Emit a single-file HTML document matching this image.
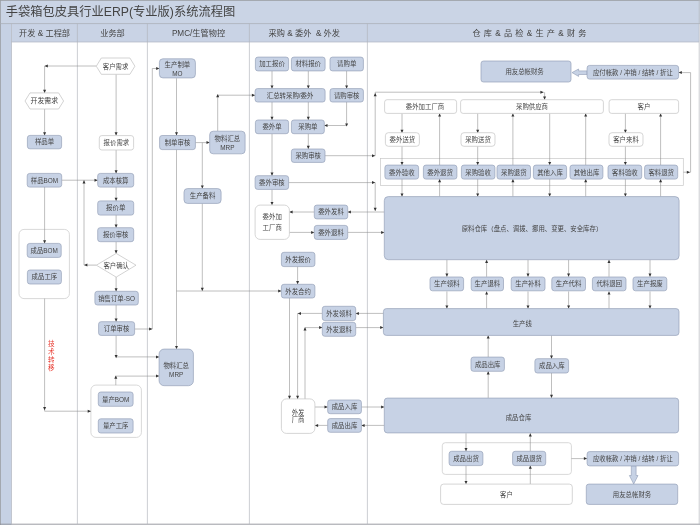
<!DOCTYPE html>
<html lang="zh-CN"><head><meta charset="utf-8"><title>手袋箱包皮具行业ERP(专业版)系统流程图</title>
<style>html,body{margin:0;padding:0;background:#fff;overflow:hidden}svg{display:block;will-change:transform}</style></head>
<body>
<svg width="700" height="525" viewBox="0 0 700 525" font-family='"Liberation Sans", "Noto Sans CJK SC", sans-serif'>
<rect x="0" y="0" width="700" height="525" fill="#ffffff"/>
<rect x="0" y="0" width="700" height="23.5" fill="#cad4e5"/>
<rect x="0" y="23.5" width="11.5" height="501.5" fill="#c6d1e4"/>
<rect x="11.3" y="23.5" width="688" height="18.5" fill="#c9d3e5"/>
<line x1="0" y1="0.4" x2="700" y2="0.4" stroke="#9a9da3" stroke-width="0.9"/>
<line x1="0.4" y1="0" x2="0.4" y2="525" stroke="#9a9da3" stroke-width="0.9"/>
<line x1="0" y1="23.6" x2="700" y2="23.6" stroke="#a6abb5" stroke-width="0.8"/>
<line x1="11.3" y1="42" x2="699" y2="42" stroke="#b0b6c2" stroke-width="0.7"/>
<line x1="0" y1="524.2" x2="700" y2="524.2" stroke="#8f9197" stroke-width="0.9"/>
<line x1="11.5" y1="23.6" x2="11.5" y2="524" stroke="#b4b8c0" stroke-width="0.7"/>
<line x1="699.2" y1="0" x2="699.2" y2="525" stroke="#b5b8be" stroke-width="0.7"/>
<line x1="77.4" y1="23.6" x2="77.4" y2="524" stroke="#b2b5bb" stroke-width="0.65"/>
<line x1="147.4" y1="23.6" x2="147.4" y2="524" stroke="#b2b5bb" stroke-width="0.65"/>
<line x1="249.4" y1="23.6" x2="249.4" y2="524" stroke="#b2b5bb" stroke-width="0.65"/>
<line x1="367.4" y1="23.6" x2="367.4" y2="524" stroke="#b2b5bb" stroke-width="0.65"/>
<text x="5.8" y="16.0" font-size="12.25" fill="#444" text-anchor="start" >手袋箱包皮具行业ERP(专业版)系统流程图</text>
<text x="44.6" y="36.1" font-size="8.2" fill="#444" text-anchor="middle" xml:space="preserve" word-spacing="0">开发 &amp; 工程部</text>
<text x="112.5" y="36.1" font-size="8.2" fill="#444" text-anchor="middle" xml:space="preserve" word-spacing="0">业务部</text>
<text x="198.5" y="36.1" font-size="8.2" fill="#444" text-anchor="middle" xml:space="preserve" word-spacing="0">PMC/生管物控</text>
<text x="304.3" y="36.1" font-size="8.2" fill="#444" text-anchor="middle" xml:space="preserve" word-spacing="0">采购 &amp; 委外  &amp; 外发</text>
<text x="529.5" y="36.1" font-size="8.2" fill="#444" text-anchor="middle" xml:space="preserve" word-spacing="0.95">仓 库 &amp; 品 检 &amp; 生 产 &amp; 财 务</text>
<rect x="19.0" y="229.4" width="50.4" height="69.2" rx="5" ry="5" fill="#fff" stroke="#c8c8c8" stroke-width="0.7" />
<rect x="90.9" y="385.1" width="50.5" height="52.3" rx="5" ry="5" fill="#fff" stroke="#c8c8c8" stroke-width="0.7" />
<rect x="380.6" y="158.4" width="302.7" height="27.2" rx="0" ry="0" fill="#fff" stroke="#c8c8c8" stroke-width="0.7" />
<rect x="442.3" y="442.7" width="129.1" height="31.7" rx="3" ry="3" fill="#fff" stroke="#c8c8c8" stroke-width="0.7" />
<polyline points="96.3,66.0 44.6,66.0" fill="none" stroke="#8a8a8a" stroke-width="0.55"/>
<polygon points="44.6,66.0 47.8,64.5 47.8,67.5" fill="#333"/>
<polyline points="44.6,66.0 44.6,92.9" fill="none" stroke="#8a8a8a" stroke-width="0.55"/>
<polygon points="44.6,92.9 43.1,89.7 46.1,89.7" fill="#333"/>
<polyline points="44.6,109.0 44.6,135.4" fill="none" stroke="#8a8a8a" stroke-width="0.55"/>
<polygon points="44.6,135.4 43.1,132.2 46.1,132.2" fill="#333"/>
<polyline points="44.6,187.0 44.6,243.4" fill="none" stroke="#8a8a8a" stroke-width="0.55"/>
<polygon points="44.6,243.4 43.1,240.2 46.1,240.2" fill="#333"/>
<polyline points="61.7,180.2 97.7,180.2" fill="none" stroke="#8a8a8a" stroke-width="0.55"/>
<polygon points="97.7,180.2 94.5,178.7 94.5,181.7" fill="#333"/>
<polyline points="44.6,298.6 44.6,411.2 90.9,411.2" fill="none" stroke="#8a8a8a" stroke-width="0.55"/>
<polygon points="90.9,411.2 87.7,409.7 87.7,412.7" fill="#333"/>
<polygon points="44.6,410.2 43.1,407.0 46.1,407.0" fill="#333"/>
<polyline points="116.1,74.3 116.1,135.4" fill="none" stroke="#8a8a8a" stroke-width="0.55"/>
<polygon points="116.1,135.4 114.6,132.2 117.6,132.2" fill="#333"/>
<polyline points="116.1,150.0 116.1,173.4" fill="none" stroke="#8a8a8a" stroke-width="0.55"/>
<polygon points="116.1,173.4 114.6,170.2 117.6,170.2" fill="#333"/>
<polyline points="116.1,187.0 116.1,200.9" fill="none" stroke="#8a8a8a" stroke-width="0.55"/>
<polygon points="116.1,200.9 114.6,197.7 117.6,197.7" fill="#333"/>
<polyline points="116.1,215.0 116.1,227.7" fill="none" stroke="#8a8a8a" stroke-width="0.55"/>
<polygon points="116.1,227.7 114.6,224.5 117.6,224.5" fill="#333"/>
<polyline points="116.1,241.7 116.1,253.4" fill="none" stroke="#8a8a8a" stroke-width="0.55"/>
<polygon points="116.1,253.4 114.6,250.2 117.6,250.2" fill="#333"/>
<polyline points="116.1,277.0 116.1,291.4" fill="none" stroke="#8a8a8a" stroke-width="0.55"/>
<polygon points="116.1,291.4 114.6,288.2 117.6,288.2" fill="#333"/>
<polyline points="116.1,305.0 116.1,321.7" fill="none" stroke="#8a8a8a" stroke-width="0.55"/>
<polygon points="116.1,321.7 114.6,318.5 117.6,318.5" fill="#333"/>
<polyline points="96.3,265.1 84.0,265.1 84.0,180.2" fill="none" stroke="#8a8a8a" stroke-width="0.55"/>
<polygon points="84.0,180.2 82.5,183.4 85.5,183.4" fill="#333"/>
<polygon points="84.2,265.1 87.4,263.6 87.4,266.6" fill="#333"/>
<polyline points="116.1,335.4 116.1,356.9 159.2,356.9" fill="none" stroke="#8a8a8a" stroke-width="0.55"/>
<polygon points="159.2,356.9 156.0,355.4 156.0,358.4" fill="#333"/>
<polygon points="116.1,358.3 114.6,355.1 117.6,355.1" fill="#333"/>
<polyline points="134.6,329.0 152.3,329.0 152.3,68.5 159.4,68.5" fill="none" stroke="#8a8a8a" stroke-width="0.55"/>
<polygon points="159.4,68.5 156.2,67.0 156.2,70.0" fill="#333"/>
<polygon points="152.3,329.0 149.1,327.5 149.1,330.5" fill="#333"/>
<polyline points="115.8,385.1 115.8,376.1 159.2,376.1" fill="none" stroke="#8a8a8a" stroke-width="0.55"/>
<polygon points="159.2,376.1 156.0,374.6 156.0,377.6" fill="#333"/>
<polygon points="115.8,375.6 114.3,378.8 117.3,378.8" fill="#333"/>
<polyline points="176.5,78.3 176.5,135.4" fill="none" stroke="#8a8a8a" stroke-width="0.55"/>
<polygon points="176.5,135.4 175.0,132.2 178.0,132.2" fill="#333"/>
<polyline points="176.5,149.5 176.5,349.1" fill="none" stroke="#8a8a8a" stroke-width="0.55"/>
<polygon points="176.5,349.1 175.0,345.9 178.0,345.9" fill="#333"/>
<polyline points="195.4,142.6 209.7,142.6" fill="none" stroke="#8a8a8a" stroke-width="0.55"/>
<polygon points="209.7,142.6 206.5,141.1 206.5,144.1" fill="#333"/>
<polyline points="202.3,142.6 202.3,188.6" fill="none" stroke="#8a8a8a" stroke-width="0.55"/>
<polygon points="202.3,188.6 200.8,185.4 203.8,185.4" fill="#333"/>
<polyline points="202.3,203.4 202.3,291.0" fill="none" stroke="#8a8a8a" stroke-width="0.55"/>
<polygon points="202.3,291.0 200.8,287.8 203.8,287.8" fill="#333"/>
<polyline points="176.5,291.0 281.4,291.0" fill="none" stroke="#8a8a8a" stroke-width="0.55"/>
<polygon points="281.4,291.0 278.2,289.5 278.2,292.5" fill="#333"/>
<polyline points="217.7,131.0 217.7,95.2 255.1,95.2" fill="none" stroke="#8a8a8a" stroke-width="0.55"/>
<polygon points="255.1,95.2 251.9,93.7 251.9,96.7" fill="#333"/>
<polygon points="217.7,94.0 216.2,97.2 219.2,97.2" fill="#333"/>
<polyline points="272.0,70.9 272.0,88.6" fill="none" stroke="#8a8a8a" stroke-width="0.55"/>
<polygon points="272.0,88.6 270.5,85.4 273.5,85.4" fill="#333"/>
<polyline points="308.3,70.9 308.3,88.6" fill="none" stroke="#8a8a8a" stroke-width="0.55"/>
<polygon points="308.3,88.6 306.8,85.4 309.8,85.4" fill="#333"/>
<polyline points="346.6,70.9 346.6,88.6" fill="none" stroke="#8a8a8a" stroke-width="0.55"/>
<polygon points="346.6,88.6 345.1,85.4 348.1,85.4" fill="#333"/>
<polyline points="272.0,102.0 272.0,120.0" fill="none" stroke="#8a8a8a" stroke-width="0.55"/>
<polygon points="272.0,120.0 270.5,116.8 273.5,116.8" fill="#333"/>
<polyline points="308.3,102.0 308.3,120.0" fill="none" stroke="#8a8a8a" stroke-width="0.55"/>
<polygon points="308.3,120.0 306.8,116.8 309.8,116.8" fill="#333"/>
<polyline points="346.6,102.0 346.6,125.5 324.3,125.5" fill="none" stroke="#8a8a8a" stroke-width="0.55"/>
<polygon points="324.3,125.5 327.5,124.0 327.5,127.0" fill="#333"/>
<polygon points="346.6,126.6 345.1,123.4 348.1,123.4" fill="#333"/>
<polyline points="308.3,133.7 308.3,149.0" fill="none" stroke="#8a8a8a" stroke-width="0.55"/>
<polygon points="308.3,149.0 306.8,145.8 309.8,145.8" fill="#333"/>
<polyline points="272.0,133.7 272.0,175.7" fill="none" stroke="#8a8a8a" stroke-width="0.55"/>
<polygon points="272.0,175.7 270.5,172.5 273.5,172.5" fill="#333"/>
<polyline points="272.0,189.4 272.0,205.1" fill="none" stroke="#8a8a8a" stroke-width="0.55"/>
<polygon points="272.0,205.1 270.5,201.9 273.5,201.9" fill="#333"/>
<polyline points="325.0,155.7 375.2,155.7" fill="none" stroke="#8a8a8a" stroke-width="0.55"/>
<polygon points="375.2,155.7 372.0,154.2 372.0,157.2" fill="#333"/>
<polyline points="288.6,182.6 375.2,182.6" fill="none" stroke="#8a8a8a" stroke-width="0.55"/>
<polygon points="375.2,182.6 372.0,181.1 372.0,184.1" fill="#333"/>
<polyline points="375.2,155.7 375.2,92.2 543.6,92.2" fill="none" stroke="#8a8a8a" stroke-width="0.55"/>
<polygon points="543.6,92.2 540.4,90.7 540.4,93.7" fill="#333"/>
<polyline points="544.6,92.2 544.6,99.7" fill="none" stroke="#8a8a8a" stroke-width="0.55"/>
<polygon points="544.6,99.7 543.1,96.5 546.1,96.5" fill="#333"/>
<polygon points="375.2,93.0 373.7,96.2 376.7,96.2" fill="#333"/>
<polyline points="375.2,182.6 375.2,211.0" fill="none" stroke="#8a8a8a" stroke-width="0.55"/>
<polygon points="375.2,211.0 373.7,207.8 376.7,207.8" fill="#333"/>
<polyline points="384.3,212.0 347.7,212.0" fill="none" stroke="#8a8a8a" stroke-width="0.55"/>
<polygon points="347.7,212.0 350.9,210.5 350.9,213.5" fill="#333"/>
<polyline points="314.3,212.0 289.4,212.0" fill="none" stroke="#8a8a8a" stroke-width="0.55"/>
<polygon points="289.4,212.0 292.6,210.5 292.6,213.5" fill="#333"/>
<polyline points="289.4,232.4 314.3,232.4" fill="none" stroke="#8a8a8a" stroke-width="0.55"/>
<polygon points="314.3,232.4 311.1,230.9 311.1,233.9" fill="#333"/>
<polyline points="347.7,232.4 384.3,232.4" fill="none" stroke="#8a8a8a" stroke-width="0.55"/>
<polygon points="384.3,232.4 381.1,230.9 381.1,233.9" fill="#333"/>
<polyline points="297.6,266.6 297.6,284.3" fill="none" stroke="#8a8a8a" stroke-width="0.55"/>
<polygon points="297.6,284.3 296.1,281.1 299.1,281.1" fill="#333"/>
<polyline points="289.5,298.0 289.5,398.9" fill="none" stroke="#8a8a8a" stroke-width="0.55"/>
<polygon points="289.5,398.9 288.0,395.7 291.0,395.7" fill="#333"/>
<polyline points="383.4,313.4 355.7,313.4" fill="none" stroke="#8a8a8a" stroke-width="0.55"/>
<polygon points="355.7,313.4 358.9,311.9 358.9,314.9" fill="#333"/>
<polyline points="322.3,313.4 297.6,313.4 297.6,398.9" fill="none" stroke="#8a8a8a" stroke-width="0.55"/>
<polygon points="297.6,398.9 296.1,395.7 299.1,395.7" fill="#333"/>
<polygon points="297.8,313.4 301.0,311.9 301.0,314.9" fill="#333"/>
<polyline points="305.0,398.9 305.0,327.6 322.3,327.6" fill="none" stroke="#8a8a8a" stroke-width="0.55"/>
<polygon points="322.3,327.6 319.1,326.1 319.1,329.1" fill="#333"/>
<polygon points="305.0,327.2 303.5,330.4 306.5,330.4" fill="#333"/>
<polyline points="355.7,327.6 383.4,327.6" fill="none" stroke="#8a8a8a" stroke-width="0.55"/>
<polygon points="383.4,327.6 380.2,326.1 380.2,329.1" fill="#333"/>
<polyline points="314.9,407.0 327.7,407.0" fill="none" stroke="#8a8a8a" stroke-width="0.55"/>
<polygon points="327.7,407.0 324.5,405.5 324.5,408.5" fill="#333"/>
<polyline points="361.4,407.0 384.3,407.0" fill="none" stroke="#8a8a8a" stroke-width="0.55"/>
<polygon points="384.3,407.0 381.1,405.5 381.1,408.5" fill="#333"/>
<polyline points="384.3,425.4 361.4,425.4" fill="none" stroke="#8a8a8a" stroke-width="0.55"/>
<polygon points="361.4,425.4 364.6,423.9 364.6,426.9" fill="#333"/>
<polyline points="327.7,425.4 314.9,425.4" fill="none" stroke="#8a8a8a" stroke-width="0.55"/>
<polygon points="314.9,425.4 318.1,423.9 318.1,426.9" fill="#333"/>
<polyline points="683.4,172.2 690.6,172.2 690.6,72.6 678.6,72.6" fill="none" stroke="#8a8a8a" stroke-width="0.55"/>
<polygon points="678.6,72.6 681.8,71.1 681.8,74.1" fill="#333"/>
<polygon points="690.0,172.2 686.8,170.7 686.8,173.7" fill="#333"/>
<polyline points="402.0,113.4 402.0,132.9" fill="none" stroke="#8a8a8a" stroke-width="0.55"/>
<polygon points="402.0,132.9 400.5,129.7 403.5,129.7" fill="#333"/>
<polyline points="402.0,146.3 402.0,165.1" fill="none" stroke="#8a8a8a" stroke-width="0.55"/>
<polygon points="402.0,165.1 400.5,161.9 403.5,161.9" fill="#333"/>
<polyline points="402.0,179.1 402.0,196.6" fill="none" stroke="#8a8a8a" stroke-width="0.55"/>
<polygon points="402.0,196.6 400.5,193.4 403.5,193.4" fill="#333"/>
<polyline points="477.7,113.4 477.7,132.9" fill="none" stroke="#8a8a8a" stroke-width="0.55"/>
<polygon points="477.7,132.9 476.2,129.7 479.2,129.7" fill="#333"/>
<polyline points="477.7,146.3 477.7,165.1" fill="none" stroke="#8a8a8a" stroke-width="0.55"/>
<polygon points="477.7,165.1 476.2,161.9 479.2,161.9" fill="#333"/>
<polyline points="477.7,179.1 477.7,196.6" fill="none" stroke="#8a8a8a" stroke-width="0.55"/>
<polygon points="477.7,196.6 476.2,193.4 479.2,193.4" fill="#333"/>
<polyline points="625.4,113.4 625.4,132.9" fill="none" stroke="#8a8a8a" stroke-width="0.55"/>
<polygon points="625.4,132.9 623.9,129.7 626.9,129.7" fill="#333"/>
<polyline points="625.4,146.3 625.4,165.1" fill="none" stroke="#8a8a8a" stroke-width="0.55"/>
<polygon points="625.4,165.1 623.9,161.9 626.9,161.9" fill="#333"/>
<polyline points="625.4,179.1 625.4,196.6" fill="none" stroke="#8a8a8a" stroke-width="0.55"/>
<polygon points="625.4,196.6 623.9,193.4 626.9,193.4" fill="#333"/>
<polyline points="549.7,113.4 549.7,165.1" fill="none" stroke="#8a8a8a" stroke-width="0.55"/>
<polygon points="549.7,165.1 548.2,161.9 551.2,161.9" fill="#333"/>
<polyline points="549.7,179.1 549.7,196.6" fill="none" stroke="#8a8a8a" stroke-width="0.55"/>
<polygon points="549.7,196.6 548.2,193.4 551.2,193.4" fill="#333"/>
<polyline points="439.6,165.1 439.6,113.4" fill="none" stroke="#8a8a8a" stroke-width="0.55"/>
<polygon points="439.6,113.4 438.1,116.6 441.1,116.6" fill="#333"/>
<polyline points="439.6,196.6 439.6,179.1" fill="none" stroke="#8a8a8a" stroke-width="0.55"/>
<polygon points="439.6,179.1 438.1,182.3 441.1,182.3" fill="#333"/>
<polyline points="512.9,165.1 512.9,113.4" fill="none" stroke="#8a8a8a" stroke-width="0.55"/>
<polygon points="512.9,113.4 511.4,116.6 514.4,116.6" fill="#333"/>
<polyline points="512.9,196.6 512.9,179.1" fill="none" stroke="#8a8a8a" stroke-width="0.55"/>
<polygon points="512.9,179.1 511.4,182.3 514.4,182.3" fill="#333"/>
<polyline points="585.7,165.1 585.7,113.4" fill="none" stroke="#8a8a8a" stroke-width="0.55"/>
<polygon points="585.7,113.4 584.2,116.6 587.2,116.6" fill="#333"/>
<polyline points="585.7,196.6 585.7,179.1" fill="none" stroke="#8a8a8a" stroke-width="0.55"/>
<polygon points="585.7,179.1 584.2,182.3 587.2,182.3" fill="#333"/>
<polyline points="660.6,165.1 660.6,113.4" fill="none" stroke="#8a8a8a" stroke-width="0.55"/>
<polygon points="660.6,113.4 659.1,116.6 662.1,116.6" fill="#333"/>
<polyline points="660.6,196.6 660.6,179.1" fill="none" stroke="#8a8a8a" stroke-width="0.55"/>
<polygon points="660.6,179.1 659.1,182.3 662.1,182.3" fill="#333"/>
<polyline points="446.9,259.7 446.9,276.8" fill="none" stroke="#8a8a8a" stroke-width="0.55"/>
<polygon points="446.9,276.8 445.4,273.6 448.4,273.6" fill="#333"/>
<polyline points="446.9,291.4 446.9,308.6" fill="none" stroke="#8a8a8a" stroke-width="0.55"/>
<polygon points="446.9,308.6 445.4,305.4 448.4,305.4" fill="#333"/>
<polyline points="486.6,276.8 486.6,259.7" fill="none" stroke="#8a8a8a" stroke-width="0.55"/>
<polygon points="486.6,259.7 485.1,262.9 488.1,262.9" fill="#333"/>
<polyline points="486.6,308.6 486.6,291.4" fill="none" stroke="#8a8a8a" stroke-width="0.55"/>
<polygon points="486.6,291.4 485.1,294.6 488.1,294.6" fill="#333"/>
<polyline points="528.0,259.7 528.0,276.8" fill="none" stroke="#8a8a8a" stroke-width="0.55"/>
<polygon points="528.0,276.8 526.5,273.6 529.5,273.6" fill="#333"/>
<polyline points="528.0,291.4 528.0,308.6" fill="none" stroke="#8a8a8a" stroke-width="0.55"/>
<polygon points="528.0,308.6 526.5,305.4 529.5,305.4" fill="#333"/>
<polyline points="568.6,259.7 568.6,276.8" fill="none" stroke="#8a8a8a" stroke-width="0.55"/>
<polygon points="568.6,276.8 567.1,273.6 570.1,273.6" fill="#333"/>
<polyline points="568.6,291.4 568.6,308.6" fill="none" stroke="#8a8a8a" stroke-width="0.55"/>
<polygon points="568.6,308.6 567.1,305.4 570.1,305.4" fill="#333"/>
<polyline points="609.0,276.8 609.0,259.7" fill="none" stroke="#8a8a8a" stroke-width="0.55"/>
<polygon points="609.0,259.7 607.5,262.9 610.5,262.9" fill="#333"/>
<polyline points="609.0,308.6 609.0,291.4" fill="none" stroke="#8a8a8a" stroke-width="0.55"/>
<polygon points="609.0,291.4 607.5,294.6 610.5,294.6" fill="#333"/>
<polyline points="650.0,259.7 650.0,276.8" fill="none" stroke="#8a8a8a" stroke-width="0.55"/>
<polygon points="650.0,276.8 648.5,273.6 651.5,273.6" fill="#333"/>
<polyline points="650.0,291.4 650.0,308.6" fill="none" stroke="#8a8a8a" stroke-width="0.55"/>
<polygon points="650.0,308.6 648.5,305.4 651.5,305.4" fill="#333"/>
<polyline points="488.2,397.9 488.2,371.2" fill="none" stroke="#8a8a8a" stroke-width="0.55"/>
<polygon points="488.2,371.2 486.7,374.4 489.7,374.4" fill="#333"/>
<polyline points="488.2,357.2 488.2,335.4" fill="none" stroke="#8a8a8a" stroke-width="0.55"/>
<polygon points="488.2,335.4 486.7,338.6 489.7,338.6" fill="#333"/>
<polyline points="551.5,335.4 551.5,358.8" fill="none" stroke="#8a8a8a" stroke-width="0.55"/>
<polygon points="551.5,358.8 550.0,355.6 553.0,355.6" fill="#333"/>
<polyline points="551.5,373.0 551.5,397.9" fill="none" stroke="#8a8a8a" stroke-width="0.55"/>
<polygon points="551.5,397.9 550.0,394.7 553.0,394.7" fill="#333"/>
<polyline points="466.0,433.3 466.0,451.3" fill="none" stroke="#8a8a8a" stroke-width="0.55"/>
<polygon points="466.0,451.3 464.5,448.1 467.5,448.1" fill="#333"/>
<polyline points="466.0,465.6 466.0,484.1" fill="none" stroke="#8a8a8a" stroke-width="0.55"/>
<polygon points="466.0,484.1 464.5,480.9 467.5,480.9" fill="#333"/>
<polyline points="530.3,484.1 530.3,465.6" fill="none" stroke="#8a8a8a" stroke-width="0.55"/>
<polygon points="530.3,465.6 528.8,468.8 531.8,468.8" fill="#333"/>
<polyline points="530.3,451.3 530.3,433.3" fill="none" stroke="#8a8a8a" stroke-width="0.55"/>
<polygon points="530.3,433.3 528.8,436.5 531.8,436.5" fill="#333"/>
<polyline points="571.4,458.6 587.1,458.6" fill="none" stroke="#8a8a8a" stroke-width="0.55"/>
<polygon points="587.1,458.6 583.9,457.1 583.9,460.1" fill="#333"/>
<polygon points="572,72.6 578.6,69 578.6,70.9 587.1,70.9 587.1,74.5 578.6,74.5 578.6,76.4" fill="#c7d2e5" stroke="#8f9bb3" stroke-width="0.6"/>
<polygon points="631.3,465.9 636.1,465.9 636.1,475.5 638,475.5 633.7,484 629.4,475.5 631.3,475.5" fill="#c7d2e5" stroke="#8f9bb3" stroke-width="0.6"/>
<polygon points="25.0,101.0 30.0,92.9 58.6,92.9 63.6,101.0 58.6,109.0 30.0,109.0" fill="#fff" stroke="#c0c0c0" stroke-width="0.7"/>
<text x="44.3" y="103.4" font-size="6.9" fill="#444" text-anchor="middle" >开发需求</text>
<rect x="27.4" y="135.4" width="34.2" height="13.4" rx="2.5" ry="2.5" fill="#c7d2e5" stroke="#96a2b9" stroke-width="0.7" />
<text x="44.5" y="144.4" font-size="6.4" fill="#444" text-anchor="middle" >样品单</text>
<rect x="27.2" y="173.4" width="34.5" height="13.7" rx="2.5" ry="2.5" fill="#c7d2e5" stroke="#96a2b9" stroke-width="0.7" />
<text x="44.5" y="182.6" font-size="6.4" fill="#444" text-anchor="middle" >样品BOM</text>
<rect x="27.2" y="243.4" width="34.0" height="14.0" rx="2.5" ry="2.5" fill="#c7d2e5" stroke="#96a2b9" stroke-width="0.7" />
<text x="44.2" y="252.7" font-size="6.4" fill="#444" text-anchor="middle" >成品BOM</text>
<rect x="27.4" y="270.0" width="34.0" height="14.0" rx="2.5" ry="2.5" fill="#c7d2e5" stroke="#96a2b9" stroke-width="0.7" />
<text x="44.4" y="279.3" font-size="6.4" fill="#444" text-anchor="middle" >成品工序</text>
<text x="51.4" y="346.2" font-size="6.6" fill="#e8392f" text-anchor="middle" >技</text>
<text x="51.4" y="354.2" font-size="6.6" fill="#e8392f" text-anchor="middle" >术</text>
<text x="51.4" y="362.2" font-size="6.6" fill="#e8392f" text-anchor="middle" >转</text>
<text x="51.4" y="370.2" font-size="6.6" fill="#e8392f" text-anchor="middle" >移</text>
<polygon points="96.3,66.2 101.3,58.0 129.9,58.0 134.9,66.2 129.9,74.3 101.3,74.3" fill="#fff" stroke="#c0c0c0" stroke-width="0.7"/>
<text x="115.6" y="68.5" font-size="6.4" fill="#444" text-anchor="middle" >客户需求</text>
<rect x="99.3" y="135.6" width="34.3" height="14.4" rx="2.5" ry="2.5" fill="#ffffff" stroke="#c4c4c4" stroke-width="0.7" />
<text x="116.4" y="145.1" font-size="6.4" fill="#444" text-anchor="middle" >报价需求</text>
<rect x="97.7" y="173.4" width="36.0" height="13.7" rx="2.5" ry="2.5" fill="#c7d2e5" stroke="#96a2b9" stroke-width="0.7" />
<text x="115.7" y="182.6" font-size="6.4" fill="#444" text-anchor="middle" >成本核算</text>
<rect x="97.7" y="200.9" width="36.0" height="14.2" rx="2.5" ry="2.5" fill="#c7d2e5" stroke="#96a2b9" stroke-width="0.7" />
<text x="115.7" y="210.3" font-size="6.4" fill="#444" text-anchor="middle" >报价单</text>
<rect x="97.7" y="227.7" width="36.0" height="14.0" rx="2.5" ry="2.5" fill="#c7d2e5" stroke="#96a2b9" stroke-width="0.7" />
<text x="115.7" y="237.0" font-size="6.4" fill="#444" text-anchor="middle" >报价审核</text>
<polygon points="96.3,265.2 116.2,253.4 136.0,265.2 116.2,277.1" fill="#fff" stroke="#c0c0c0" stroke-width="0.7"/>
<text x="116.2" y="267.6" font-size="6.4" fill="#444" text-anchor="middle" >客户确认</text>
<rect x="94.9" y="291.3" width="43.4" height="13.7" rx="2.5" ry="2.5" fill="#c7d2e5" stroke="#96a2b9" stroke-width="0.7" />
<text x="116.6" y="300.5" font-size="6.4" fill="#444" text-anchor="middle" >销售订单-SO</text>
<rect x="98.6" y="321.7" width="36.0" height="13.7" rx="2.5" ry="2.5" fill="#c7d2e5" stroke="#96a2b9" stroke-width="0.7" />
<text x="116.6" y="330.9" font-size="6.4" fill="#444" text-anchor="middle" >订单审核</text>
<rect x="98.3" y="392.0" width="34.8" height="14.3" rx="2.5" ry="2.5" fill="#c7d2e5" stroke="#96a2b9" stroke-width="0.7" />
<text x="115.7" y="401.5" font-size="6.4" fill="#444" text-anchor="middle" >量产BOM</text>
<rect x="98.3" y="418.8" width="34.8" height="14.2" rx="2.5" ry="2.5" fill="#c7d2e5" stroke="#96a2b9" stroke-width="0.7" />
<text x="115.7" y="428.2" font-size="6.4" fill="#444" text-anchor="middle" >量产工序</text>
<rect x="159.4" y="58.8" width="36.0" height="19.1" rx="3.5" ry="3.5" fill="#c7d2e5" stroke="#96a2b9" stroke-width="0.7" />
<text x="177.4" y="67.2" font-size="6.4" fill="#444" text-anchor="middle" >生产制单</text>
<text x="177.4" y="76.1" font-size="6.4" fill="#444" text-anchor="middle" >MO</text>
<rect x="159.6" y="135.5" width="35.8" height="14.1" rx="2.5" ry="2.5" fill="#c7d2e5" stroke="#96a2b9" stroke-width="0.7" />
<text x="177.5" y="144.9" font-size="6.4" fill="#444" text-anchor="middle" >制单审核</text>
<rect x="209.7" y="131.2" width="35.4" height="22.6" rx="3.5" ry="3.5" fill="#c7d2e5" stroke="#96a2b9" stroke-width="0.7" />
<text x="227.4" y="141.0" font-size="6.4" fill="#444" text-anchor="middle" >物料汇总</text>
<text x="227.4" y="149.9" font-size="6.4" fill="#444" text-anchor="middle" >MRP</text>
<rect x="184.0" y="188.6" width="37.1" height="14.8" rx="3.5" ry="3.5" fill="#c7d2e5" stroke="#96a2b9" stroke-width="0.7" />
<text x="202.6" y="198.3" font-size="6.4" fill="#444" text-anchor="middle" >生产备料</text>
<rect x="159.1" y="349.1" width="34.3" height="36.6" rx="5" ry="5" fill="#c7d2e5" stroke="#96a2b9" stroke-width="0.7" />
<text x="176.2" y="368.1" font-size="6.4" fill="#444" text-anchor="middle" >物料汇总</text>
<text x="176.2" y="377.0" font-size="6.4" fill="#444" text-anchor="middle" >MRP</text>
<rect x="255.4" y="57.1" width="33.2" height="13.8" rx="2.5" ry="2.5" fill="#c7d2e5" stroke="#96a2b9" stroke-width="0.7" />
<text x="272.0" y="66.3" font-size="6.4" fill="#444" text-anchor="middle" >加工报价</text>
<rect x="291.4" y="57.1" width="33.7" height="13.8" rx="2.5" ry="2.5" fill="#c7d2e5" stroke="#96a2b9" stroke-width="0.7" />
<text x="308.2" y="66.3" font-size="6.4" fill="#444" text-anchor="middle" >材料报价</text>
<rect x="330.0" y="57.1" width="33.4" height="13.8" rx="2.5" ry="2.5" fill="#c7d2e5" stroke="#96a2b9" stroke-width="0.7" />
<text x="346.7" y="66.3" font-size="6.4" fill="#444" text-anchor="middle" >请购单</text>
<rect x="255.1" y="88.6" width="70.0" height="13.4" rx="2.5" ry="2.5" fill="#c7d2e5" stroke="#96a2b9" stroke-width="0.7" />
<text x="290.1" y="97.6" font-size="6.4" fill="#444" text-anchor="middle" >汇总转采购/委外</text>
<rect x="330.0" y="88.6" width="33.4" height="13.4" rx="2.5" ry="2.5" fill="#c7d2e5" stroke="#96a2b9" stroke-width="0.7" />
<text x="346.7" y="97.6" font-size="6.4" fill="#444" text-anchor="middle" >请购审核</text>
<rect x="255.4" y="120.0" width="33.2" height="13.7" rx="2.5" ry="2.5" fill="#c7d2e5" stroke="#96a2b9" stroke-width="0.7" />
<text x="272.0" y="129.2" font-size="6.4" fill="#444" text-anchor="middle" >委外单</text>
<rect x="291.4" y="120.0" width="32.9" height="13.7" rx="2.5" ry="2.5" fill="#c7d2e5" stroke="#96a2b9" stroke-width="0.7" />
<text x="307.9" y="129.2" font-size="6.4" fill="#444" text-anchor="middle" >采购单</text>
<rect x="291.4" y="149.0" width="33.6" height="13.4" rx="2.5" ry="2.5" fill="#c7d2e5" stroke="#96a2b9" stroke-width="0.7" />
<text x="308.2" y="158.0" font-size="6.4" fill="#444" text-anchor="middle" >采购审核</text>
<rect x="255.1" y="175.7" width="33.5" height="13.7" rx="2.5" ry="2.5" fill="#c7d2e5" stroke="#96a2b9" stroke-width="0.7" />
<text x="271.9" y="184.9" font-size="6.4" fill="#444" text-anchor="middle" >委外审核</text>
<rect x="255.1" y="205.1" width="34.3" height="34.3" rx="5" ry="5" fill="#ffffff" stroke="#c4c4c4" stroke-width="0.7" />
<text x="272.2" y="218.9" font-size="6.4" fill="#444" text-anchor="middle" >委外加</text>
<text x="272.2" y="230.3" font-size="6.4" fill="#444" text-anchor="middle" >工厂商</text>
<rect x="314.3" y="205.1" width="33.4" height="13.8" rx="2.5" ry="2.5" fill="#c7d2e5" stroke="#96a2b9" stroke-width="0.7" />
<text x="331.0" y="214.3" font-size="6.4" fill="#444" text-anchor="middle" >委外发料</text>
<rect x="314.3" y="225.4" width="33.4" height="14.0" rx="2.5" ry="2.5" fill="#c7d2e5" stroke="#96a2b9" stroke-width="0.7" />
<text x="331.0" y="234.7" font-size="6.4" fill="#444" text-anchor="middle" >委外退料</text>
<rect x="281.4" y="252.3" width="33.5" height="14.3" rx="2.5" ry="2.5" fill="#c7d2e5" stroke="#96a2b9" stroke-width="0.7" />
<text x="298.1" y="261.8" font-size="6.4" fill="#444" text-anchor="middle" >外发报价</text>
<rect x="281.4" y="284.3" width="33.5" height="13.7" rx="2.5" ry="2.5" fill="#c7d2e5" stroke="#96a2b9" stroke-width="0.7" />
<text x="298.1" y="293.5" font-size="6.4" fill="#444" text-anchor="middle" >外发合约</text>
<rect x="322.3" y="306.3" width="33.4" height="14.3" rx="2.5" ry="2.5" fill="#c7d2e5" stroke="#96a2b9" stroke-width="0.7" />
<text x="339.0" y="315.8" font-size="6.4" fill="#444" text-anchor="middle" >外发领料</text>
<rect x="322.3" y="322.3" width="33.4" height="14.0" rx="2.5" ry="2.5" fill="#c7d2e5" stroke="#96a2b9" stroke-width="0.7" />
<text x="339.0" y="331.6" font-size="6.4" fill="#444" text-anchor="middle" >外发退料</text>
<rect x="281.4" y="398.9" width="33.5" height="34.5" rx="5" ry="5" fill="#ffffff" stroke="#c4c4c4" stroke-width="0.7" />
<text x="298.1" y="414.6" font-size="6.4" fill="#444" text-anchor="middle" >外发</text>
<text x="298.1" y="422.3" font-size="6.4" fill="#444" text-anchor="middle" >厂商</text>
<rect x="327.7" y="400.0" width="33.7" height="13.7" rx="2.5" ry="2.5" fill="#c7d2e5" stroke="#96a2b9" stroke-width="0.7" />
<text x="344.5" y="409.2" font-size="6.4" fill="#444" text-anchor="middle" >成品入库</text>
<rect x="327.7" y="418.6" width="33.7" height="13.7" rx="2.5" ry="2.5" fill="#c7d2e5" stroke="#96a2b9" stroke-width="0.7" />
<text x="344.5" y="427.8" font-size="6.4" fill="#444" text-anchor="middle" >成品出库</text>
<rect x="481.0" y="61.0" width="90.0" height="21.0" rx="2.5" ry="2.5" fill="#c7d2e5" stroke="#96a2b9" stroke-width="0.7" />
<text x="524.6" y="73.8" font-size="6.4" fill="#444" text-anchor="middle" >用友总帐财务</text>
<rect x="587.1" y="65.4" width="91.5" height="13.7" rx="2.5" ry="2.5" fill="#c7d2e5" stroke="#96a2b9" stroke-width="0.7" />
<text x="632.9" y="74.6" font-size="6.4" fill="#444" text-anchor="middle" >应付帐款 / 冲销 / 结转 / 折让</text>
<rect x="384.6" y="99.7" width="72.0" height="13.7" rx="2.5" ry="2.5" fill="#ffffff" stroke="#c4c4c4" stroke-width="0.7" />
<text x="425.0" y="108.9" font-size="6.4" fill="#444" text-anchor="middle" >委外加工厂商</text>
<rect x="460.6" y="99.7" width="142.8" height="13.7" rx="2.5" ry="2.5" fill="#ffffff" stroke="#c4c4c4" stroke-width="0.7" />
<text x="532.0" y="108.9" font-size="6.4" fill="#444" text-anchor="middle" >采购供应商</text>
<rect x="609.1" y="99.7" width="69.5" height="13.7" rx="2.5" ry="2.5" fill="#ffffff" stroke="#c4c4c4" stroke-width="0.7" />
<text x="643.9" y="108.9" font-size="6.4" fill="#444" text-anchor="middle" >客户</text>
<rect x="385.4" y="132.7" width="34.0" height="13.6" rx="3" ry="3" fill="#ffffff" stroke="#c4c4c4" stroke-width="0.7" />
<text x="402.4" y="141.8" font-size="6.4" fill="#444" text-anchor="middle" >委外送货</text>
<rect x="461.0" y="132.7" width="34.0" height="13.6" rx="3" ry="3" fill="#ffffff" stroke="#c4c4c4" stroke-width="0.7" />
<text x="478.0" y="141.8" font-size="6.4" fill="#444" text-anchor="middle" >采购送货</text>
<rect x="609.0" y="132.7" width="34.0" height="13.6" rx="3" ry="3" fill="#ffffff" stroke="#c4c4c4" stroke-width="0.7" />
<text x="626.0" y="141.8" font-size="6.4" fill="#444" text-anchor="middle" >客户来料</text>
<rect x="384.9" y="165.1" width="33.7" height="14.0" rx="2.5" ry="2.5" fill="#c7d2e5" stroke="#96a2b9" stroke-width="0.7" />
<text x="401.8" y="175.0" font-size="6.4" fill="#444" text-anchor="middle" >委外验收</text>
<rect x="423.4" y="165.1" width="33.5" height="14.0" rx="2.5" ry="2.5" fill="#c7d2e5" stroke="#96a2b9" stroke-width="0.7" />
<text x="440.1" y="175.0" font-size="6.4" fill="#444" text-anchor="middle" >委外退货</text>
<rect x="461.4" y="165.1" width="33.5" height="14.0" rx="2.5" ry="2.5" fill="#c7d2e5" stroke="#96a2b9" stroke-width="0.7" />
<text x="478.1" y="175.0" font-size="6.4" fill="#444" text-anchor="middle" >采购验收</text>
<rect x="497.0" y="165.1" width="33.5" height="14.0" rx="2.5" ry="2.5" fill="#c7d2e5" stroke="#96a2b9" stroke-width="0.7" />
<text x="513.8" y="175.0" font-size="6.4" fill="#444" text-anchor="middle" >采购退货</text>
<rect x="533.4" y="165.1" width="33.2" height="14.0" rx="2.5" ry="2.5" fill="#c7d2e5" stroke="#96a2b9" stroke-width="0.7" />
<text x="550.0" y="175.0" font-size="6.4" fill="#444" text-anchor="middle" >其他入库</text>
<rect x="570.0" y="165.1" width="32.9" height="14.0" rx="2.5" ry="2.5" fill="#c7d2e5" stroke="#96a2b9" stroke-width="0.7" />
<text x="586.5" y="175.0" font-size="6.4" fill="#444" text-anchor="middle" >其他出库</text>
<rect x="608.0" y="165.1" width="33.7" height="14.0" rx="2.5" ry="2.5" fill="#c7d2e5" stroke="#96a2b9" stroke-width="0.7" />
<text x="624.9" y="175.0" font-size="6.4" fill="#444" text-anchor="middle" >客料验收</text>
<rect x="644.6" y="165.1" width="33.1" height="14.0" rx="2.5" ry="2.5" fill="#c7d2e5" stroke="#96a2b9" stroke-width="0.7" />
<text x="661.2" y="175.0" font-size="6.4" fill="#444" text-anchor="middle" >客料退货</text>
<rect x="384.3" y="196.6" width="294.8" height="63.1" rx="4" ry="4" fill="#c7d2e5" stroke="#96a2b9" stroke-width="0.7" />
<text x="532.0" y="230.5" font-size="6.4" fill="#444" text-anchor="middle" >原料仓库（盘点、调拨、挪用、变更、安全库存）</text>
<rect x="430.0" y="277.0" width="33.6" height="13.8" rx="2.5" ry="2.5" fill="#c7d2e5" stroke="#96a2b9" stroke-width="0.7" />
<text x="446.8" y="286.2" font-size="6.4" fill="#444" text-anchor="middle" >生产领料</text>
<rect x="471.2" y="277.0" width="32.3" height="13.8" rx="2.5" ry="2.5" fill="#c7d2e5" stroke="#96a2b9" stroke-width="0.7" />
<text x="487.4" y="286.2" font-size="6.4" fill="#444" text-anchor="middle" >生产退料</text>
<rect x="511.2" y="277.0" width="33.8" height="13.8" rx="2.5" ry="2.5" fill="#c7d2e5" stroke="#96a2b9" stroke-width="0.7" />
<text x="528.1" y="286.2" font-size="6.4" fill="#444" text-anchor="middle" >生产补料</text>
<rect x="551.8" y="277.0" width="33.7" height="13.8" rx="2.5" ry="2.5" fill="#c7d2e5" stroke="#96a2b9" stroke-width="0.7" />
<text x="568.6" y="286.2" font-size="6.4" fill="#444" text-anchor="middle" >生产代料</text>
<rect x="592.4" y="277.0" width="33.6" height="13.8" rx="2.5" ry="2.5" fill="#c7d2e5" stroke="#96a2b9" stroke-width="0.7" />
<text x="609.2" y="286.2" font-size="6.4" fill="#444" text-anchor="middle" >代料退回</text>
<rect x="633.0" y="277.0" width="33.8" height="13.8" rx="2.5" ry="2.5" fill="#c7d2e5" stroke="#96a2b9" stroke-width="0.7" />
<text x="649.9" y="286.2" font-size="6.4" fill="#444" text-anchor="middle" >生产报废</text>
<rect x="383.4" y="308.6" width="295.6" height="26.8" rx="3" ry="3" fill="#c7d2e5" stroke="#96a2b9" stroke-width="0.7" />
<text x="522.3" y="325.8" font-size="6.4" fill="#444" text-anchor="middle" >生产线</text>
<rect x="471.0" y="357.1" width="33.4" height="14.2" rx="2.5" ry="2.5" fill="#c7d2e5" stroke="#96a2b9" stroke-width="0.7" />
<text x="487.7" y="366.5" font-size="6.4" fill="#444" text-anchor="middle" >成品出库</text>
<rect x="534.9" y="358.7" width="33.7" height="14.3" rx="2.5" ry="2.5" fill="#c7d2e5" stroke="#96a2b9" stroke-width="0.7" />
<text x="551.8" y="368.2" font-size="6.4" fill="#444" text-anchor="middle" >成品入库</text>
<rect x="384.3" y="398.1" width="294.3" height="34.8" rx="3" ry="3" fill="#c7d2e5" stroke="#96a2b9" stroke-width="0.7" />
<text x="518.5" y="419.8" font-size="6.4" fill="#444" text-anchor="middle" >成品仓库</text>
<rect x="449.1" y="451.3" width="33.8" height="14.3" rx="2.5" ry="2.5" fill="#c7d2e5" stroke="#96a2b9" stroke-width="0.7" />
<text x="466.0" y="460.8" font-size="6.4" fill="#444" text-anchor="middle" >成品出货</text>
<rect x="512.6" y="451.3" width="33.1" height="14.3" rx="2.5" ry="2.5" fill="#c7d2e5" stroke="#96a2b9" stroke-width="0.7" />
<text x="529.2" y="460.8" font-size="6.4" fill="#444" text-anchor="middle" >成品退货</text>
<rect x="440.6" y="484.1" width="131.7" height="20.3" rx="3" ry="3" fill="#ffffff" stroke="#c4c4c4" stroke-width="0.7" />
<text x="506.4" y="496.6" font-size="6.4" fill="#444" text-anchor="middle" >客户</text>
<rect x="587.1" y="451.6" width="91.5" height="14.3" rx="2.5" ry="2.5" fill="#c7d2e5" stroke="#96a2b9" stroke-width="0.7" />
<text x="632.9" y="461.1" font-size="6.4" fill="#444" text-anchor="middle" >应收帐款 / 冲销 / 结转 / 折让</text>
<rect x="586.3" y="484.1" width="91.4" height="20.3" rx="2.5" ry="2.5" fill="#c7d2e5" stroke="#96a2b9" stroke-width="0.7" />
<text x="632.0" y="496.6" font-size="6.4" fill="#444" text-anchor="middle" >用友总帐财务</text>
</svg>
</body></html>
